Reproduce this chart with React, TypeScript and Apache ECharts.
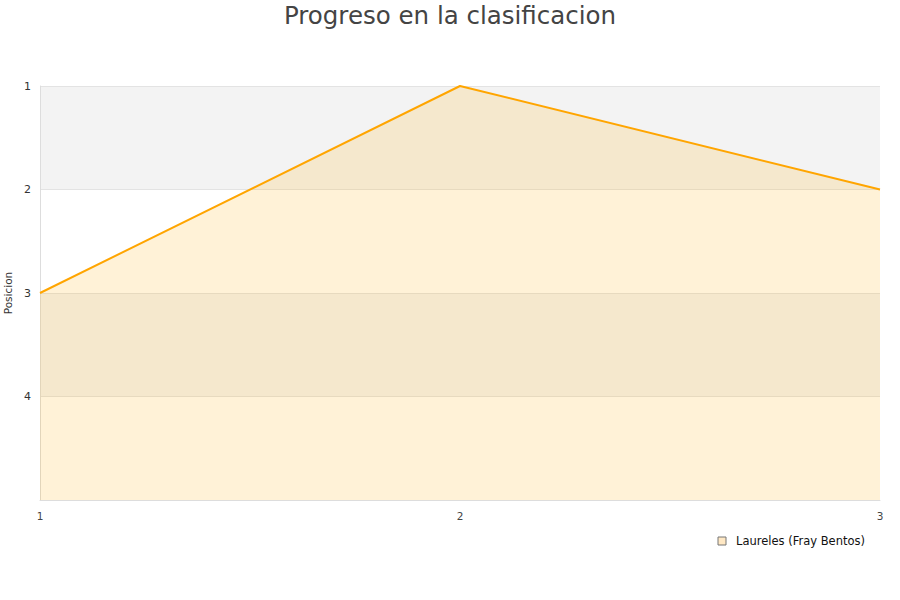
import React, { useEffect, useRef } from "react";
import * as echarts from "echarts";

const categories = ["1", "2", "3"];
const teamName = "Laureles (Fray Bentos)";
const positions = [3, 1, 2];
const yTicks = [1, 2, 3, 4, 5];

export default function App() {
  const ref = useRef<HTMLDivElement>(null);
  useEffect(() => {
    const chart = echarts.init(ref.current!, null, { renderer: "svg" });
    chart.setOption({
      animation: false,
      title: {
        text: "Progreso en la clasificacion",
        left: "center",
        top: -2,
        textStyle: { fontSize: 24.5, fontWeight: "normal", color: "#444", fontFamily: "DejaVu Sans" },
      },
      grid: { left: 40, right: 20, top: 86, bottom: 100, containLabel: false, outerBoundsMode: "none" },
      legend: {
        data: [
          {
            name: teamName,
            itemStyle: { color: "#ffe8c4", borderColor: "#777", borderWidth: 1 },
          },
        ],
        right: 30,
        top: 530,
        icon: "rect",
        itemWidth: 8,
        itemHeight: 8,
        itemGap: 10,
        textStyle: { fontSize: 11.5, color: "#111", fontFamily: "DejaVu Sans", padding: [0, 0, 0, 5] },
      },
      xAxis: {
        type: "category",
        data: categories,
        boundaryGap: false,
        axisLine: { lineStyle: { color: "#ddd" } },
        axisTick: { show: false },
        axisLabel: { fontSize: 10.5, color: "#444", margin: 10, fontFamily: "DejaVu Sans" },
        splitLine: { show: false },
      },
      yAxis: {
        type: "value",
        inverse: true,
        min: yTicks[0],
        max: yTicks[yTicks.length - 1],
        interval: 1,
        name: "Posicion",
        nameLocation: "middle",
        nameGap: 22,
        nameTextStyle: { fontSize: 10.5, color: "#333", fontFamily: "DejaVu Sans" },
        axisLine: { show: true, lineStyle: { color: "#ddd" } },
        axisTick: { show: false },
        axisLabel: {
          fontSize: 11,
          color: "#333",
          margin: 9,
          fontFamily: "DejaVu Sans",
          formatter: (v: number) => (v === 5 ? "" : String(v)),
        },
        splitLine: { show: true, lineStyle: { color: "#e3e3e3" } },
        splitArea: { show: true, areaStyle: { color: ["#f3f3f3", "#ffffff"] } },
      },
      series: [
        {
          name: teamName,
          type: "line",
          data: positions,
          symbol: "none",
          lineStyle: { color: "#ffa500", width: 2 },
          itemStyle: { color: "#ffa500" },
          areaStyle: { color: "rgba(255,175,20,0.24)", origin: "end" },
        },
      ],
    });
    return () => chart.dispose();
  }, []);
  return <div ref={ref} style={{ width: 900, height: 600, position: "absolute", left: 0, top: 0 }} />;
}
